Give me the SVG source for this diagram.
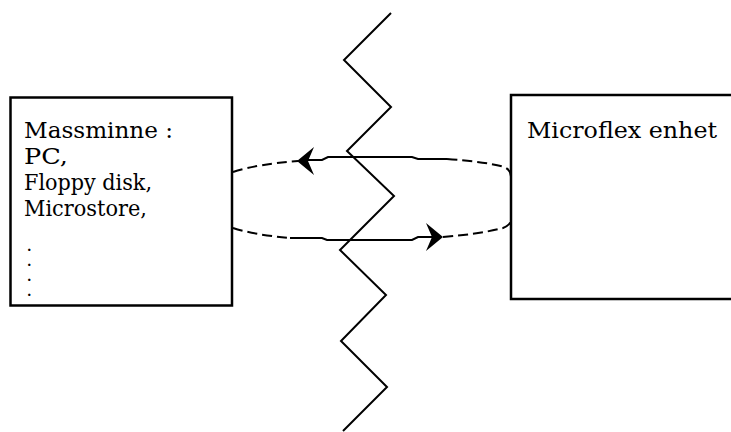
<svg xmlns="http://www.w3.org/2000/svg" width="731" height="432" viewBox="0 0 731 432">
  <style>
    .box { fill: #fff; stroke: #000; stroke-width: 2.5; }
    .lbl { font-family: "DejaVu Serif", "Liberation Serif", serif; font-size: 22px; fill: #000; }
    .dot { font-family: "DejaVu Serif", "Liberation Serif", serif; font-size: 13px; font-weight: bold; fill: #000; }
    .solid { fill: none; stroke: #000; stroke-width: 2; }
    .dash { fill: none; stroke: #000; stroke-width: 2; stroke-dasharray: 10 5; }
    .zig { fill: none; stroke: #000; stroke-width: 2; stroke-linejoin: miter; }
  </style>
  <defs>
    <path id="head" d="M0,0 L-17,-14 L-11,0 L-17,14 Z" fill="#000"/>
  </defs>
  <rect width="731" height="432" fill="#fff"/>

  <!-- storage side -->
  <g id="massminne">
    <rect class="box" x="10.5" y="97.5" width="221.5" height="208"/>
    <text class="lbl" x="24" y="138" textLength="149" lengthAdjust="spacingAndGlyphs">Massminne :</text>
    <text class="lbl" x="24" y="164" textLength="44" lengthAdjust="spacingAndGlyphs">PC,</text>
    <text class="lbl" x="24" y="190" textLength="128" lengthAdjust="spacingAndGlyphs">Floppy disk,</text>
    <text class="lbl" x="24" y="216" textLength="123" lengthAdjust="spacingAndGlyphs">Microstore,</text>
    <text class="dot" x="27" y="251">.</text>
    <text class="dot" x="27" y="266">.</text>
    <text class="dot" x="27" y="281">.</text>
    <text class="dot" x="27" y="296">.</text>
  </g>

  <!-- device side -->
  <g id="microflex">
    <rect class="box" x="511" y="95" width="240" height="204"/>
    <text class="lbl" x="527" y="138" textLength="190" lengthAdjust="spacingAndGlyphs">Microflex enhet</text>
  </g>

  <!-- link between the two units -->
  <g id="connectors">
    <path class="dash" d="M233,172 Q258,164 298,161"/>
    <path class="solid" d="M308,160 L322,160 L328,157 L412,157 L418,159 L447,159"/>
    <path class="dash" d="M447,159 Q488,162 504,167 Q511,170 511,177"/>
    <use href="#head" transform="translate(297,161) rotate(180)"/>

    <path class="dash" d="M233,228 Q255,235 290,238"/>
    <path class="solid" d="M290,238 L322,238 L327,240 L412,240 L418,237 L432,237"/>
    <path class="dash" d="M443,237 Q480,234 503,228 Q511,225 511,219"/>
    <use href="#head" transform="translate(443,237)"/>
  </g>

  <!-- separating zigzag -->
  <g id="boundary">
    <polyline class="zig" points="391,13 344,60 391,107 347,151 394,196 340,250 386,295 341,341 387,387 343,431"/>
  </g>
</svg>
